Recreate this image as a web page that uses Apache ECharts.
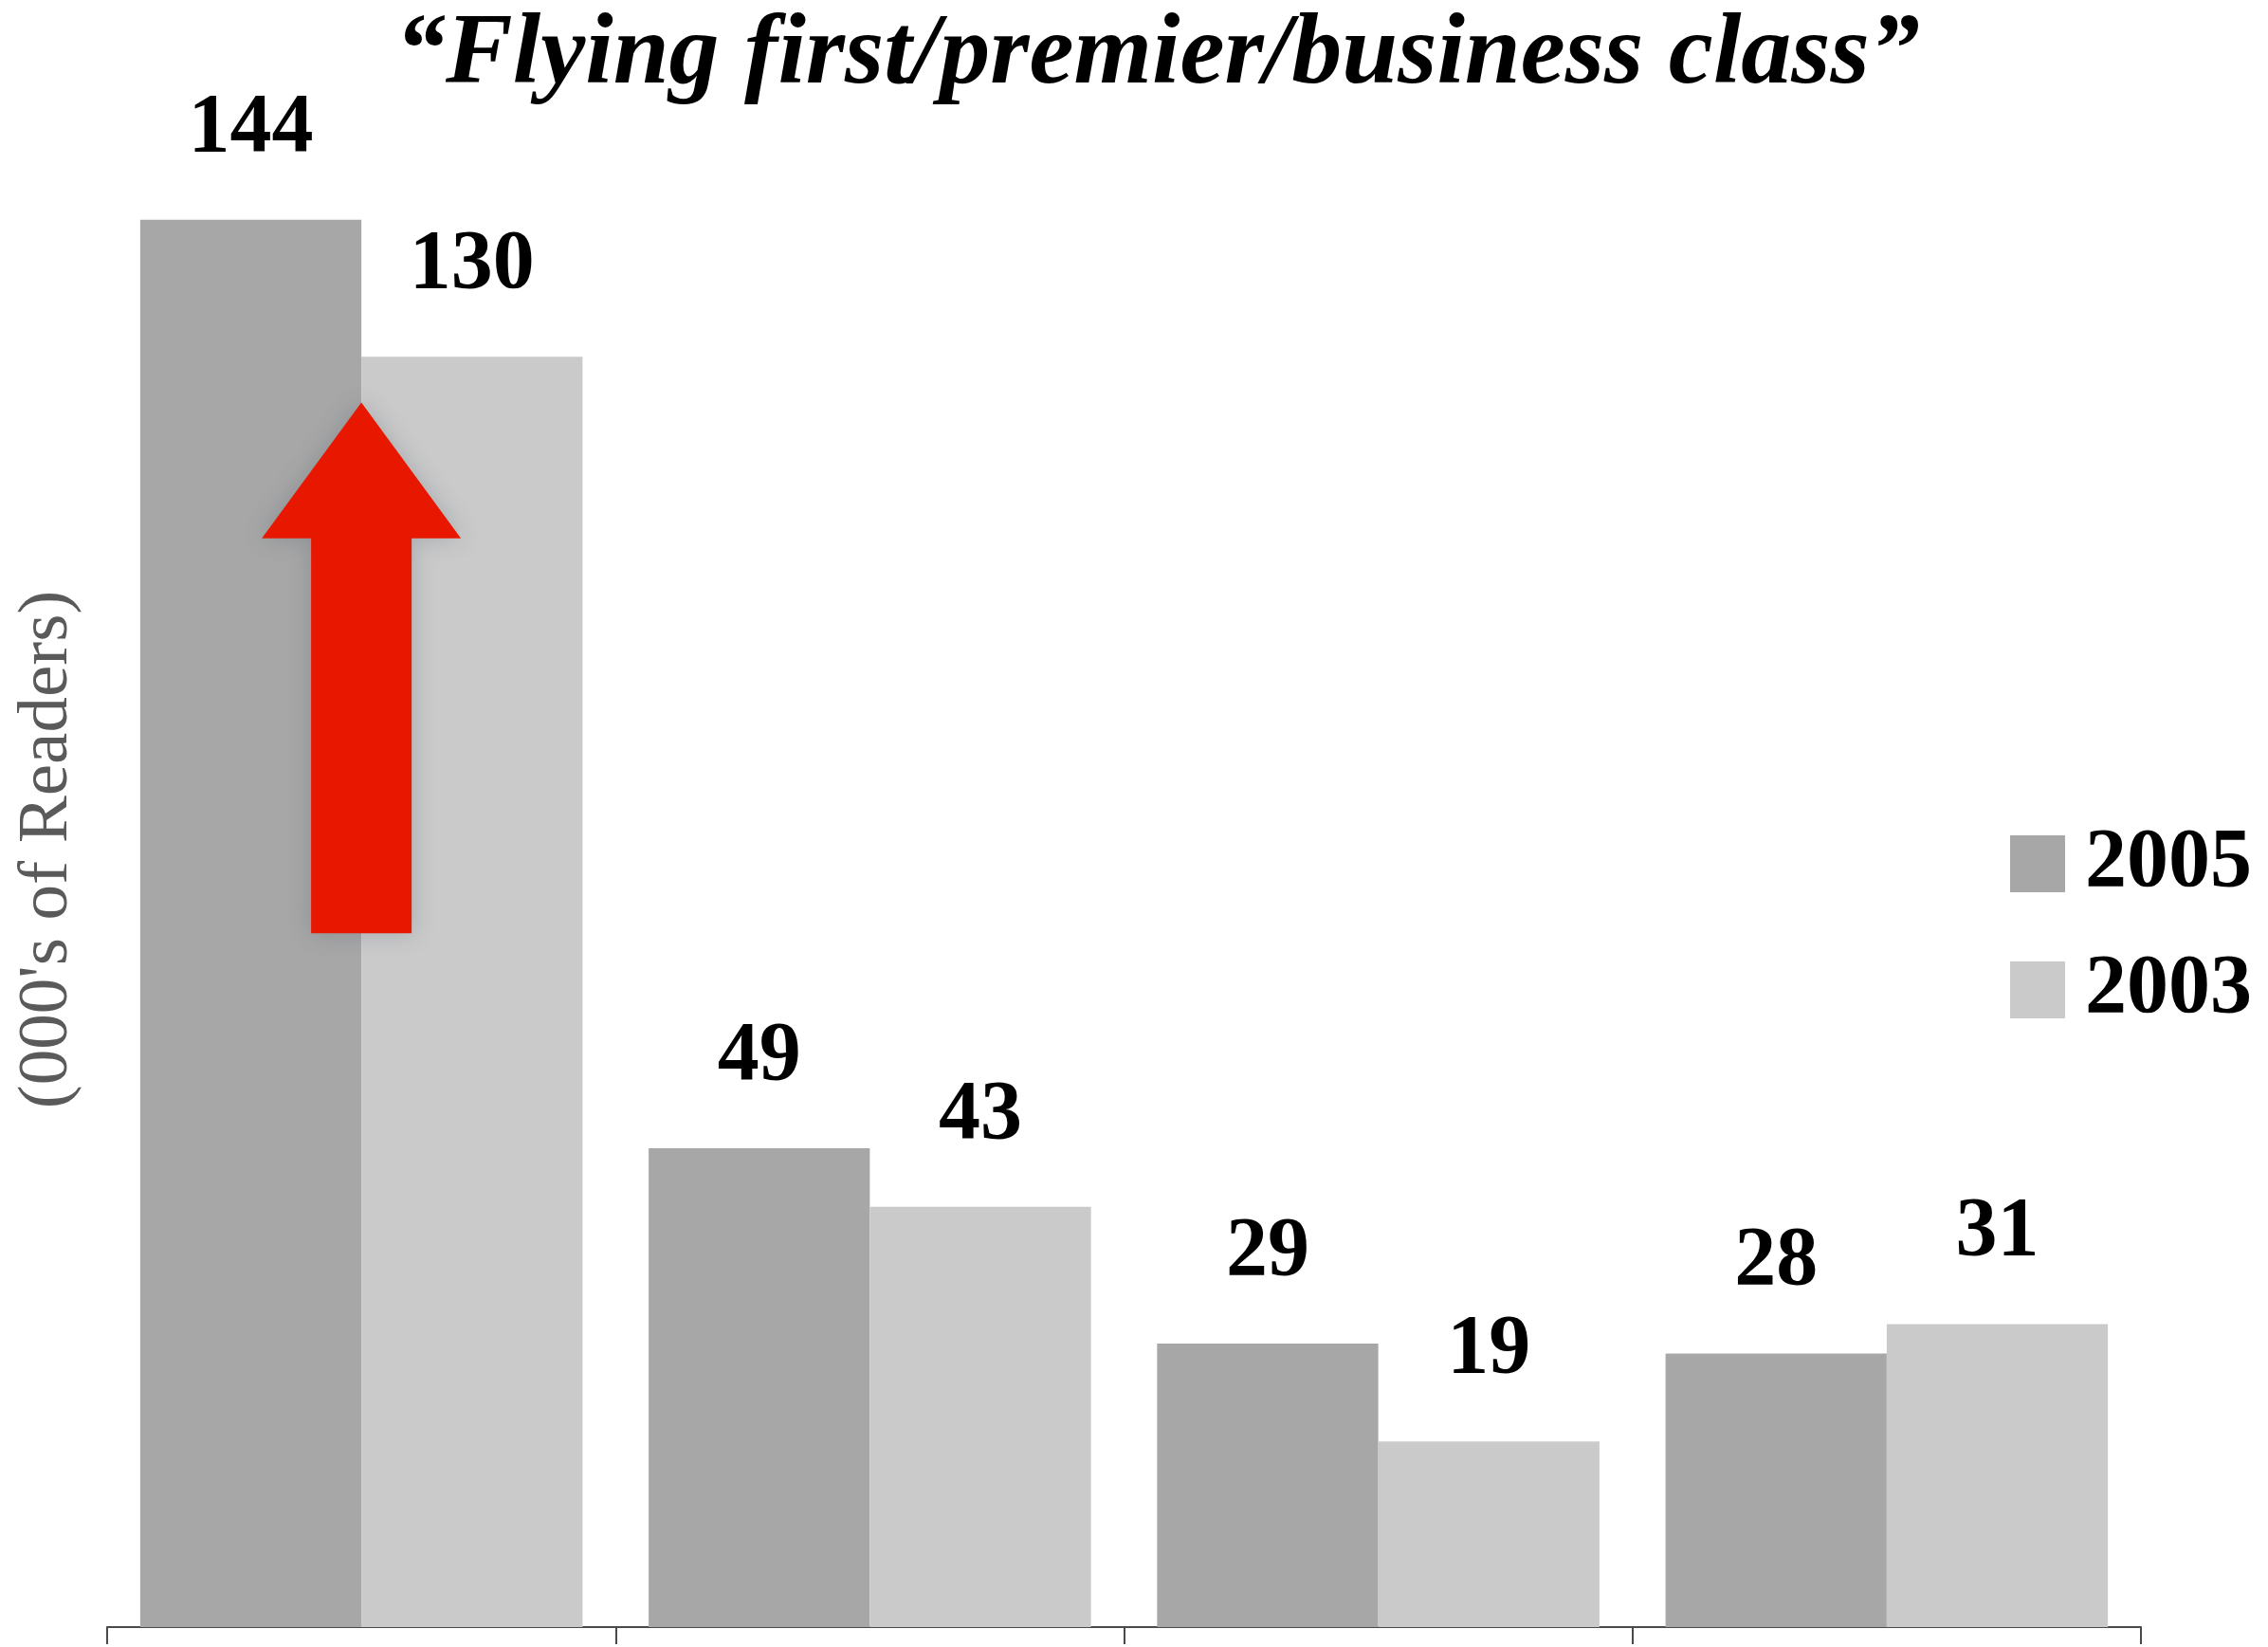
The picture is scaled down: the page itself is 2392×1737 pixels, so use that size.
<!DOCTYPE html>
<html>
<head>
<meta charset="utf-8">
<title>Flying first/premier/business class</title>
<script src="https://cdn.jsdelivr.net/npm/echarts@6/dist/echarts.min.js"></script>
<style>
  html, body { margin: 0; padding: 0; background: #ffffff; }
  #chart { width: 2392px; height: 1737px; }
</style>
</head>
<body>
<div id="chart"></div>
<script>
// Readership (thousands) per reader group, two survey years
const categories = ['Group A', 'Group B', 'Group C', 'Group D'];
const years = ['2005', '2003'];
const values2005 = [144, 49, 29, 28];
const values2003 = [130, 43, 19, 31];

const SERIF = '"Liberation Serif", "DejaVu Serif", serif';
const DARK = '#a7a7a7';
const LIGHT = '#cacaca';

const chart = echarts.init(document.getElementById('chart'), null, { renderer: 'canvas' });

const labelStyle = {
  show: true,
  position: 'top',
  distance: 52,
  color: '#000000',
  fontFamily: SERIF,
  fontWeight: 'bold',
  fontSize: 88
};

chart.setOption({
  backgroundColor: '#ffffff',
  animation: false,
  title: {
    text: '\u201CFlying first/premier/business class\u201D',
    left: 412,
    top: 2,
    textStyle: {
      fontFamily: SERIF,
      fontStyle: 'italic',
      fontWeight: 'bold',
      fontSize: 106,
      color: '#000000'
    }
  },
  legend: {
    orient: 'vertical',
    left: 2115,
    top: 862,
    itemWidth: 58,
    itemHeight: 60,
    itemGap: 45,
    icon: 'rect',
    data: years,
    textStyle: {
      fontFamily: SERIF,
      fontWeight: 'bold',
      fontSize: 88,
      color: '#000000',
      padding: [0, 0, 0, 16]
    }
  },
  grid: { left: 113, right: 134, top: 170, bottom: 21, containLabel: false },
  xAxis: {
    type: 'category',
    data: categories,
    boundaryGap: true,
    axisLine: { show: true, lineStyle: { color: '#4a4a4a', width: 2 } },
    axisTick: { show: true, length: 18, inside: false, lineStyle: { color: '#4a4a4a', width: 2 } },
    axisLabel: { show: false },
    splitLine: { show: false }
  },
  yAxis: {
    type: 'value',
    min: 0,
    max: 150,
    show: false,
    splitLine: { show: false }
  },
  series: [
    {
      name: years[0],
      type: 'bar',
      data: values2005,
      barGap: '0%',
      barCategoryGap: '13%',
      itemStyle: { color: DARK },
      label: labelStyle
    },
    {
      name: years[1],
      type: 'bar',
      data: values2003,
      barGap: '0%',
      barCategoryGap: '13%',
      itemStyle: { color: LIGHT },
      label: labelStyle
    }
  ]
});

// Red upward arrow over the first pair of bars, anchored in data space
function arrowShape() {
  const cx = chart.convertToPixel({ xAxisIndex: 0 }, categories[0]);
  const tipY = chart.convertToPixel({ yAxisIndex: 0 }, 125.3);
  const headY = chart.convertToPixel({ yAxisIndex: 0 }, 111.4);
  const baseY = chart.convertToPixel({ yAxisIndex: 0 }, 71);
  const headHalf = 105;
  const shaftHalf = 53;
  return [
    [cx, tipY],
    [cx + headHalf, headY],
    [cx + shaftHalf, headY],
    [cx + shaftHalf, baseY],
    [cx - shaftHalf, baseY],
    [cx - shaftHalf, headY],
    [cx - headHalf, headY]
  ];
}

chart.setOption({
  graphic: [
    {
      type: 'polygon',
      shape: { points: arrowShape() },
      style: {
        fill: '#e81800',
        shadowBlur: 24,
        shadowColor: 'rgba(60, 70, 90, 0.25)'
      },
      z: 10
    },
    {
      type: 'text',
      x: 50,
      y: 896,
      rotation: Math.PI / 2,
      style: {
        text: "(000's of Readers)",
        fontFamily: SERIF,
        fontSize: 75,
        fill: '#5a5a5a',
        align: 'center',
        verticalAlign: 'middle'
      }
    }
  ]
});
</script>
</body>
</html>
